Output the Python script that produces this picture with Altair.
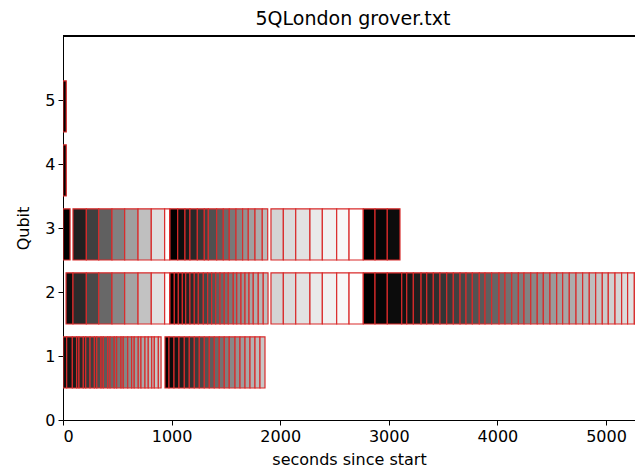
import altair as alt
import pandas as pd

# ---- data (seconds since start) ----
QUBIT_TICKS = [0, 1, 2, 3, 4, 5]
X_TICKS = [0, 1000, 2000, 3000, 4000, 5000]

Q5_RUN = [0, 30]
Q4_RUN = [0, 30]

Q3_RUN_A = [0, 65]
Q3_RUN_B = [92, 215, 329, 451, 568, 691, 813, 936, 982]
Q3_RUN_C = [985, 1056, 1123, 1169, 1237, 1301, 1338, 1415, 1476, 1531,
            1593, 1654, 1706, 1768, 1835, 1885]
Q3_RUN_D = [1915, 2029, 2143, 2274, 2388, 2520, 2634, 2765]
Q3_RUN_E = [2765, 2873, 2986, 3103]

Q2_RUN_A = [28, 92, 215, 329, 451, 568, 691, 813, 936, 982]
Q2_RUN_B = [985, 1025, 1062, 1099, 1130, 1169, 1209, 1246, 1292, 1332,
            1369, 1406, 1446, 1485, 1522, 1568, 1600, 1639, 1676, 1713,
            1752, 1798, 1844, 1888]
Q2_RUN_C = [1915, 2029, 2143, 2274, 2388, 2520, 2634, 2765]
Q2_RUN_D = [2765, 2873, 2986, 3119, 3165, 3226, 3297, 3349, 3410, 3471,
            3533, 3594, 3656, 3711, 3769, 3833, 3886, 3947, 4015, 4070,
            4132, 4193, 4245, 4307, 4367, 4423, 4484, 4546, 4601, 4662,
            4724, 4785, 4846, 4905, 4966, 5021, 5083, 5144, 5199, 5261,
            5313, 5374, 5435, 5496, 5557]

Q1_RUN_A = [0, 34, 86, 126, 147, 187, 209, 249, 289, 311, 350, 371, 412,
            433, 472, 494, 534, 555, 596, 632, 656, 693, 718, 755, 785,
            817, 841, 878, 903]
Q1_RUN_B = [939, 976, 1022, 1068, 1117, 1163, 1209, 1255, 1301, 1347,
            1393, 1439, 1485, 1531, 1584, 1630, 1676, 1722, 1768, 1814, 1860]

# (qubit, run edges, first shade, last shade)  shade: 0 = black, 1 = white
RUNS = [
    (5, Q5_RUN, 0.0, 0.0),
    (4, Q4_RUN, 0.0, 0.0),
    (3, Q3_RUN_A, 0.0, 0.0),
    (3, Q3_RUN_B, 0.125, 1.0),
    (3, Q3_RUN_C, 0.0, 0.73),
    (3, Q3_RUN_D, 0.83, 1.0),
    (3, Q3_RUN_E, 0.0, 0.047),
    (2, Q2_RUN_A, 0.05, 1.0),
    (2, Q2_RUN_B, 0.0, 0.75),
    (2, Q2_RUN_C, 0.83, 1.0),
    (2, Q2_RUN_D, 0.0, 1.0),
    (1, Q1_RUN_A, 0.05, 0.8),
    (1, Q1_RUN_B, 0.0, 0.78),
]

rows = []
for q, edges, s0, s1 in RUNS:
    n = len(edges) - 1
    for i in range(n):
        shade = s0 if n == 1 else s0 + (s1 - s0) * i / (n - 1)
        rows.append({"start": edges[i], "end": edges[i + 1],
                     "lo": q - 0.5, "hi": q + 0.3, "shade": shade})
df = pd.DataFrame(rows)

W, H = 572, 384
FONT = "DejaVu Sans"

bars = alt.Chart(df).mark_rect(
    stroke="#d92b2b", strokeWidth=1.2, clip=True
).encode(
    x=alt.X("start:Q",
            scale=alt.Scale(domain=[0, 5267], nice=False, zero=False),
            axis=alt.Axis(values=X_TICKS, format="d", title="seconds since start",
                          grid=False)),
    x2="end:Q",
    y=alt.Y("lo:Q",
            scale=alt.Scale(domain=[0, 6], nice=False),
            axis=alt.Axis(values=QUBIT_TICKS, format="d", title="Qubit",
                          grid=False)),
    y2="hi:Q",
    color=alt.Color("shade:Q",
                    scale=alt.Scale(domain=[0, 1], range=["#000000", "#ffffff"],
                                    interpolate="rgb"),
                    legend=None),
)

top_spine = alt.Chart(df).mark_rule(color="black", strokeWidth=1).encode(
    x=alt.value(0), x2=alt.value(W), y=alt.value(0)
)

chart = alt.layer(bars, top_spine).properties(
    width=W, height=H,
    title=alt.TitleParams("5QLondon grover.txt", font=FONT, fontSize=19,
                          fontWeight="normal", color="black", offset=7,
                          dx=4),
    autosize=alt.AutoSizeParams(type="none"),
    padding={"left": 55, "top": 28, "right": 0, "bottom": 60},
).configure_view(stroke=None).configure_axis(
    domainColor="black", tickColor="black", labelColor="black",
    titleColor="black", labelFont=FONT, titleFont=FONT,
    labelFontSize=16, titleFontSize=16, titleFontWeight="normal",
    tickSize=5, labelPadding=3, domainWidth=1, tickWidth=1,
).configure_axisY(titlePadding=13).configure_axisX(titlePadding=7)

chart.save("out.html", embed_options={"renderer": "svg", "actions": False})
